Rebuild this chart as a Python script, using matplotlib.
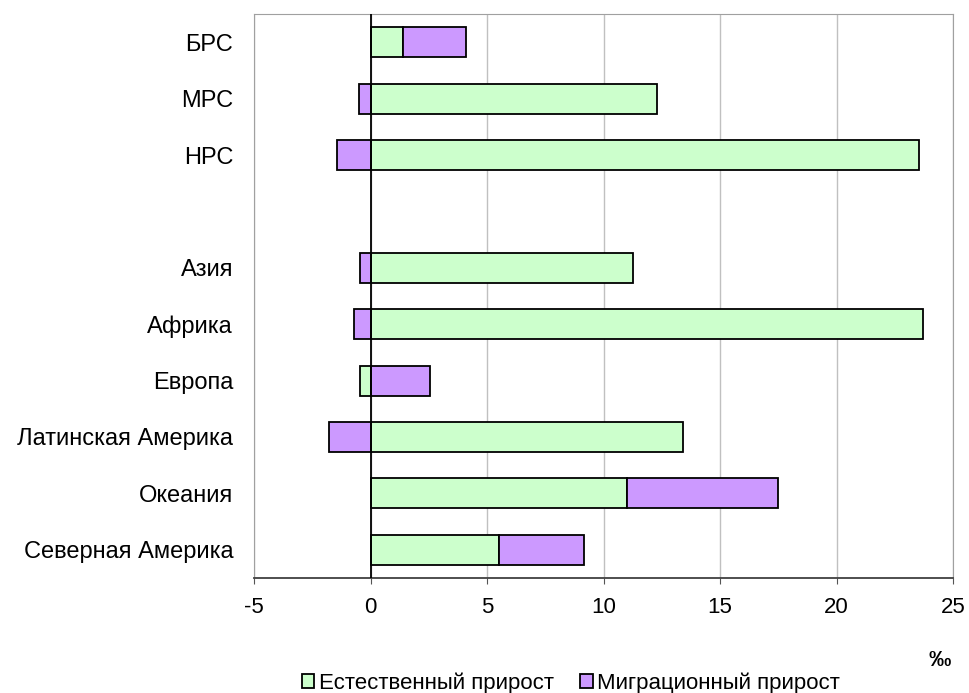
import numpy as np
import matplotlib
matplotlib.use("Agg")
from matplotlib import pyplot as plt

# данные
categories = ['БРС', 'МРС', 'НРС', '', 'Азия', 'Африка', 'Европа',
              'Латинская Америка', 'Океания', 'Северная Америка']
natural = [1.4, 12.3, 23.55, 0, 11.25, 23.7, -0.45, 13.4, 11.0, 5.5]
migration = [2.7, -0.5, -1.45, 0, -0.45, -0.7, 2.55, -1.8, 6.5, 3.65]
series_names = ['Естественный прирост', 'Миграционный прирост']
colors = ['#ccffcc', '#cc99ff']
xticks = [-5, 0, 5, 10, 15, 20, 25]

plt.rcParams['font.family'] = ['Liberation Sans', 'DejaVu Sans']

W, H, DPI = 970, 693, 100
fig = plt.figure(figsize=(W / DPI, H / DPI), dpi=DPI)
ax = fig.add_axes([254 / W, 1 - 578 / H, (953 - 254) / W, (578 - 14) / H])

y = np.arange(len(categories))
pos = np.zeros(len(categories))
neg = np.zeros(len(categories))
mask = np.array([c != '' for c in categories])
for vals, name, col in zip([natural, migration], series_names, colors):
    vals = np.array(vals)
    # положительные и отрицательные значения складываются отдельно
    left = np.where(vals >= 0, pos, neg)
    ax.barh(y[mask], vals[mask], left=left[mask], height=0.53, color=col,
            edgecolor='black', linewidth=1.3, label=name, zorder=3)
    pos += np.where(vals >= 0, vals, 0)
    neg += np.where(vals < 0, vals, 0)

ax.set_xlim(-5, 25)
ax.set_ylim(len(categories) - 0.5, -0.5)
ax.set_xticks(xticks)
ax.set_xticklabels([str(t) for t in xticks], fontsize=16)
ax.set_yticks(y)
ax.set_yticklabels(categories, fontsize=17)
ax.tick_params(axis='y', length=0, pad=15)
ax.tick_params(axis='x', length=4, pad=10, color='#555555')

ax.grid(axis='x', color='#c0c0c0', linewidth=1, zorder=0)
ax.axvline(0, color='black', linewidth=1.3, zorder=4)
for s in ['left', 'top', 'right']:
    ax.spines[s].set_color('#a0a0a0')
ax.spines['bottom'].set_color('#404040')
ax.spines['bottom'].set_linewidth(1.3)

fig.text(940 / W, 1 - 661 / H, '‰', fontsize=16, ha='center', va='center',
         fontweight='bold')
fig.legend(loc='center', bbox_to_anchor=(571 / W, 1 - 683 / H), ncol=2,
           frameon=False, fontsize=16, handlelength=0.55, handleheight=0.55,
           handletextpad=0.2, columnspacing=1.2, borderpad=0)

fig.savefig('out.png', dpi=DPI)
